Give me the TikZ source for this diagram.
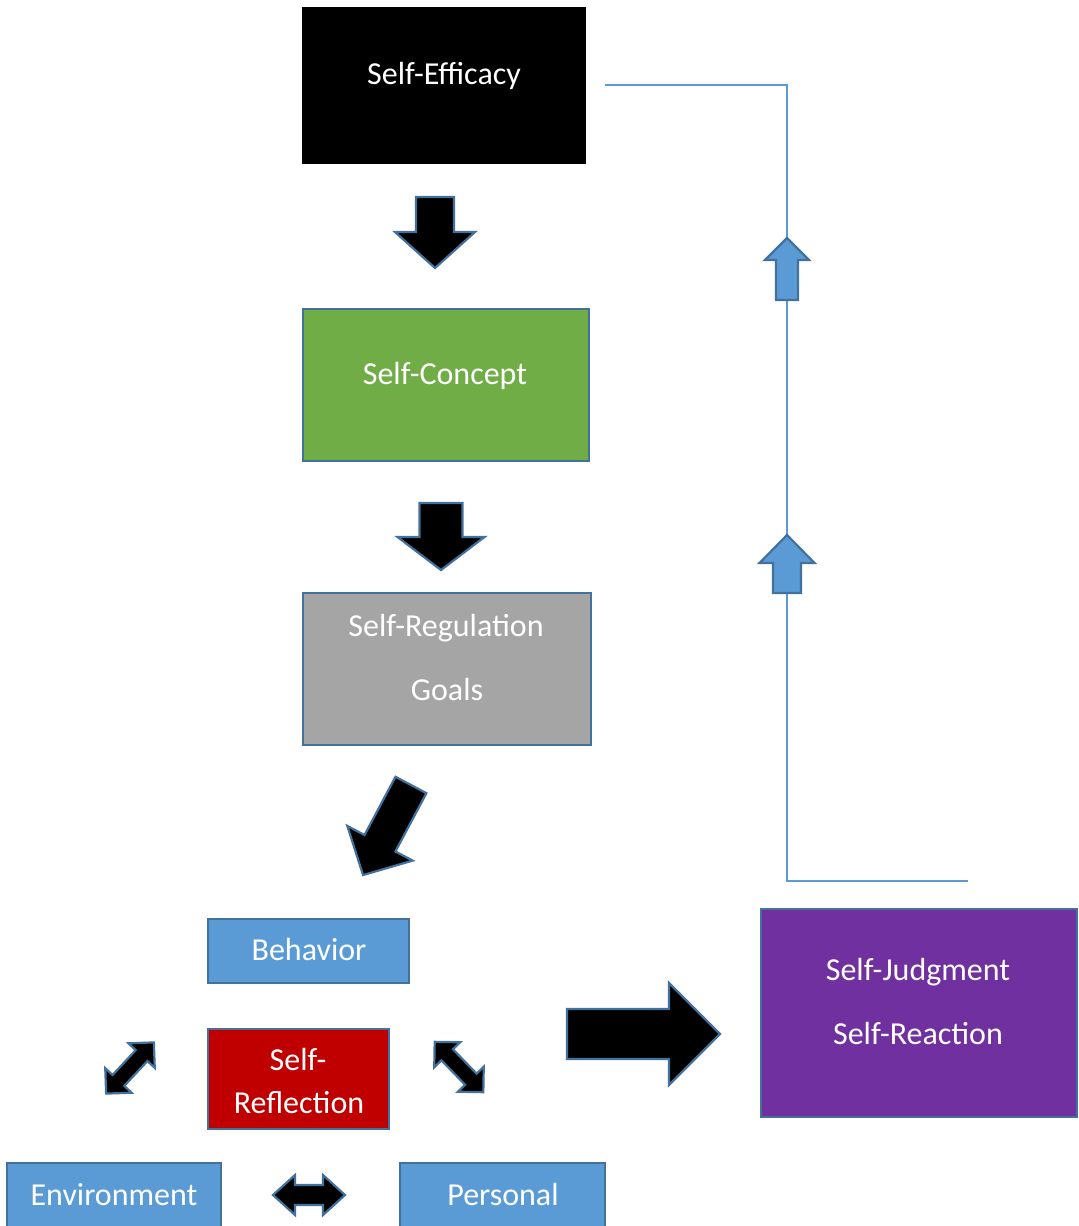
\documentclass[tikz,border=0pt]{standalone}
\usepackage{fontspec}
\setmainfont{Carlito}
\definecolor{boxblue}{HTML}{5B9BD5}
\definecolor{edgeblue}{HTML}{41719C}
\definecolor{selfgreen}{HTML}{70AD47}
\definecolor{selfgray}{HTML}{A5A5A5}
\definecolor{selfred}{HTML}{C00000}
\definecolor{selfpurple}{HTML}{7030A0}
\newcommand\blockarrow[7]{%
  \filldraw[#1,shift={(#2)},rotate=#3]
    ({-#4/2},{-#6/2}) -- ({#4/2-#7},{-#6/2}) -- ({#4/2-#7},{-#5/2}) -- ({#4/2},0)
    -- ({#4/2-#7},{#5/2}) -- ({#4/2-#7},{#6/2}) -- ({-#4/2},{#6/2}) -- cycle;}
\newcommand\dblarrow[7]{%
  \filldraw[#1,shift={(#2)},rotate=#3]
    ({-#4/2},0) -- ({-#4/2+#7},{-#5/2}) -- ({-#4/2+#7},{-#6/2}) -- ({#4/2-#7},{-#6/2})
    -- ({#4/2-#7},{-#5/2}) -- ({#4/2},0) -- ({#4/2-#7},{#5/2}) -- ({#4/2-#7},{#6/2})
    -- ({-#4/2+#7},{#6/2}) -- ({-#4/2+#7},{#5/2}) -- cycle;}
\begin{document}
\begin{tikzpicture}[x=0.5pt,y=-0.5pt,
  box/.style={draw=edgeblue,line width=1pt,inner sep=0pt},
  txt/.style={text=white,anchor=base,font=\fontsize{16}{19}\selectfont},
  blk/.style={fill=black,draw=edgeblue,line width=1.1pt},
  upblk/.style={fill=boxblue,draw=edgeblue,line width=1.1pt}]
\clip (0,0) rectangle (1078,1226);

\node[box,fill=black,draw=none,minimum width=142pt,minimum height=78.5pt] (eff) at (444,85.5) {};
\node[box,fill=selfgreen,minimum width=143pt,minimum height=76pt] (con) at (446,385) {};
\node[box,fill=selfgray,minimum width=144pt,minimum height=76pt] (reg) at (447,669) {};
\node[box,fill=boxblue,minimum width=100.5pt,minimum height=32pt] (beh) at (308.5,951) {};
\node[box,fill=selfred,minimum width=90.5pt,minimum height=50pt] (refl) at (298.5,1079) {};
\node[box,fill=boxblue,minimum width=107pt,minimum height=32.5pt] (env) at (114,1195.5) {};
\node[box,fill=boxblue,minimum width=102.5pt,minimum height=32.5pt] (pers) at (502.5,1195.5) {};
\node[box,fill=selfpurple,minimum width=158pt,minimum height=104pt] (judg) at (919,1013) {};

\node[txt] (eff-t) at (444,84) {Self-Efficacy};
\node[txt] (con-t) at (445,384) {Self-Concept};
\node[txt] (reg-t) at (446,636) {Self-Regulation};
\node[txt] (reg-g) at (447,700) {Goals};
\node[txt] (beh-t) at (309,960) {Behavior};
\node[txt] (refl-t) at (298,1070) {Self-};
\node[txt] (refl-r) at (299,1113) {Reflection};
\node[txt] (env-t) at (114,1205) {Environment};
\node[txt] (pers-t) at (503,1205) {Personal};
\node[txt] (judg-t) at (918,980) {Self-Judgment};
\node[txt] (judg-r) at (918,1044) {Self-Reaction};

\coordinate (fb-top) at (605,85);
\coordinate (fb-corner) at (787,85);
\coordinate (fb-low) at (787,881);
\coordinate (fb-end) at (968,881);
\draw[boxblue,line width=0.75pt] (fb-top) -- (fb-corner) -- (fb-low) -- (fb-end);

\blockarrow{upblk}{787,269}{90}{62}{44}{22}{22}
\blockarrow{upblk}{787,564}{90}{58}{55}{28}{28}

\blockarrow{blk}{435,232.5}{-90}{71}{80}{38}{36}
\blockarrow{blk}{441,536.5}{-90}{67}{87}{43}{33}
\blockarrow{blk}{387,830}{242}{102}{74}{35}{36}
\blockarrow{blk}{643.5,1034}{0}{153}{102}{50}{51}

\dblarrow{blk}{130,1068}{47}{70}{36}{16}{18}
\dblarrow{blk}{459,1067}{-46}{70}{36}{16}{18}
\dblarrow{blk}{309,1195}{0}{72}{40}{20}{22}
\end{tikzpicture}
\end{document}
